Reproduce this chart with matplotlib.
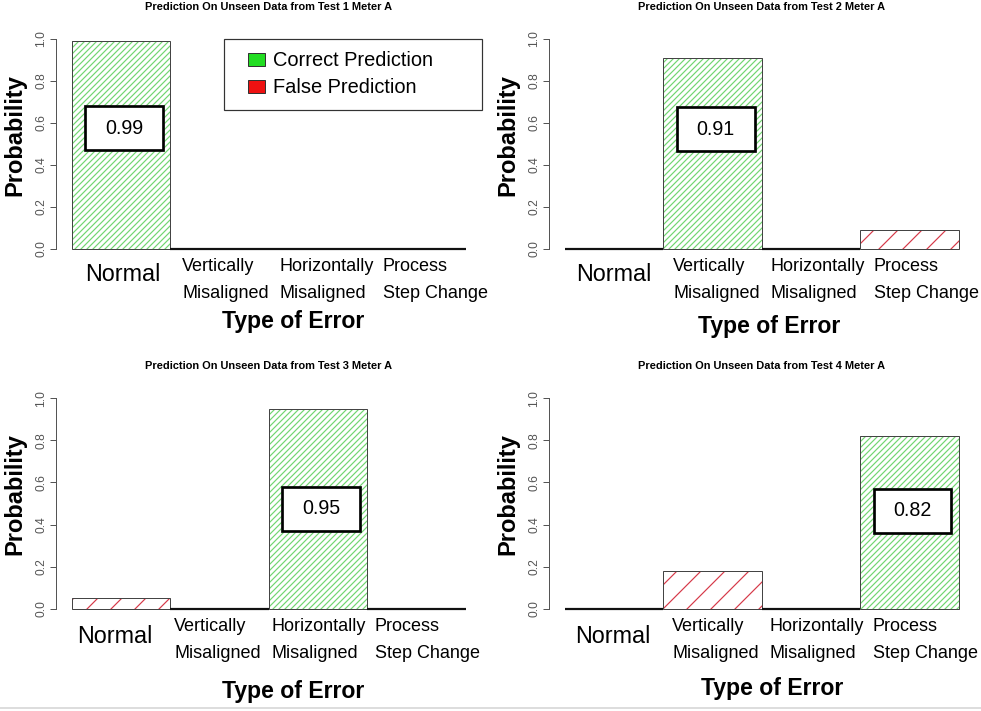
import matplotlib
matplotlib.use('Agg')
import matplotlib.pyplot as plt
from matplotlib import font_manager
from matplotlib.patches import Patch, Rectangle
from matplotlib.legend_handler import HandlerPatch
from matplotlib.lines import Line2D

categories = ['Normal', 'Vertically\nMisaligned', 'Horizontally\nMisaligned', 'Process\nStep Change']
tests = ['Test 1', 'Test 2', 'Test 3', 'Test 4']
test1_probs = [0.99, 0.0, 0.0, 0.0]
test2_probs = [0.0, 0.91, 0.0, 0.09]
test3_probs = [0.05, 0.0, 0.95, 0.0]
test4_probs = [0.0, 0.18, 0.0, 0.82]
correct_idx = [0, 1, 2, 3]
all_probs = [test1_probs, test2_probs, test3_probs, test4_probs]

# where the value box sits (y, data units) in each panel
label_y = [0.575, 0.57, 0.475, 0.465]
# small per-panel quirks of the original layout
label_shift = [0.02, 0.0, -0.06, -0.01]
xlab_pos = [(0.556, -0.345), (0.517, -0.369), (0.556, -0.389), (0.524, -0.379)]
normal_top = [-0.067, -0.067, -0.076, -0.076]

GREEN = '#22dd22'
RED = '#ee1111'
GREEN_HATCH = '#72d672'
RED_HATCH = '#d63a4a'

plt.rcParams['font.family'] = ['Liberation Sans', 'DejaVu Sans']
plt.rcParams['hatch.linewidth'] = 0.6
plt.rcParams['ytick.alignment'] = 'center'

names = {f.name for f in font_manager.fontManager.ttflist}
if 'Liberation Sans Narrow' in names:
    title_family, title_size = ['Liberation Sans Narrow', 'Liberation Sans'], 6.0
else:
    title_family, title_size = ['Liberation Sans', 'DejaVu Sans'], 5.5


def offset_square(legend, orig_handle, xdescent, ydescent, width, height, fontsize):
    return Rectangle((-xdescent + 0.41 * width, -ydescent), 0.59 * width, height)


DPI = 144
fig = plt.figure(figsize=(981 / DPI, 711 / DPI), dpi=DPI)
fig.patch.set_facecolor('white')

positions = [
    [0.0573, 0.6380, 0.4337, 0.3190],
    [0.5598, 0.6380, 0.4337, 0.3190],
    [0.0573, 0.1316, 0.4337, 0.3204],
    [0.5598, 0.1316, 0.4337, 0.3204],
]

x = [i + 0.5 for i in range(len(categories))]

for k, probs in enumerate(all_probs):
    ax = fig.add_axes(positions[k])
    good = correct_idx[k]
    hatch_cols = [GREEN_HATCH if i == good else RED_HATCH for i in range(len(probs))]
    hatches = ['////////' if i == good else '//' for i in range(len(probs))]

    bars = ax.bar(x, probs, width=1.0, facecolor='white', edgecolor=hatch_cols,
                  linewidth=0, zorder=1)
    for b, h in zip(bars, hatches):
        b.set_hatch(h)
    lws = [0.5 if p > 0 else 1.1 for p in probs]
    edge_cols = ['#444444' if p > 0 else '#111111' for p in probs]
    ax.bar(x, probs, width=1.0, fill=False, edgecolor=edge_cols, linewidth=lws, zorder=2)

    # value box
    bw, bh = 0.79, 0.21
    cx = x[good] + 0.03
    ax.add_patch(Rectangle((cx - bw / 2, label_y[k] - bh / 2), bw, bh, facecolor='white',
                           edgecolor='black', linewidth=1.35, zorder=3))
    ax.text(cx, label_y[k], f'{probs[good]:.2f}', ha='center', va='center',
            fontsize=9.8, zorder=4)

    ax.set_xlim(-0.16, 4.16)
    ax.set_ylim(-0.04, 1.04)
    ax.set_yticks([0.0, 0.2, 0.4, 0.6, 0.8, 1.0])
    ax.set_yticklabels(['0.0', '0.2', '0.4', '0.6', '0.8', '1.0'])
    ax.tick_params(axis='y', length=3, width=0.5, color='#555555', labelsize=6,
                   labelcolor='#555555', pad=1.5, labelrotation=90)
    ax.set_xticks([])
    for s in ['top', 'right', 'bottom']:
        ax.spines[s].set_visible(False)
    ax.spines['left'].set_bounds(0, 1)
    ax.spines['left'].set_color('#555555')
    ax.spines['left'].set_linewidth(0.5)

    # category labels
    sh = label_shift[k]
    offsets = [0.0, 0.10, 0.085, 0.135]
    for i, cat in enumerate(categories):
        if i == 0:
            ax.text(x[i] + sh, normal_top[k], cat, ha='center', va='top', fontsize=11.7)
        else:
            ax.text(i + offsets[i] + sh, -0.043, cat, ha='left', va='top',
                    fontsize=9, linespacing=1.8)

    xl, yl = xlab_pos[k]
    ax.text(xl, yl, 'Type of Error', transform=ax.get_yaxis_transform(),
            ha='center', va='center', fontsize=11.5, fontweight='bold')
    ax.text(-0.097, 0.54, 'Probability', transform=ax.transAxes, rotation=90,
            ha='center', va='center', fontsize=11.8, fontweight='bold')
    ax.text(0.5, 1.102, f'Prediction On Unseen Data from {tests[k]} Meter A',
            transform=ax.transAxes, ha='center', va='center', fontsize=title_size,
            fontweight='bold', family=title_family)

    if k == 0:
        handles = [Patch(facecolor=GREEN, edgecolor='#333333', linewidth=0.5),
                   Patch(facecolor=RED, edgecolor='#333333', linewidth=0.5)]
        leg = ax.legend(handles, ['Correct Prediction', 'False Prediction'],
                        loc='upper left', bbox_to_anchor=(0.394, 0.0, 0.606, 0.963),
                        mode='expand', borderaxespad=0, fontsize=10,
                        handlelength=1.45, handleheight=0.6, handletextpad=0.4,
                        labelspacing=0.4, borderpad=0.62, fancybox=False,
                        edgecolor='#333333', framealpha=1,
                        handler_map={Patch: HandlerPatch(patch_func=offset_square)})
        leg.get_frame().set_linewidth(0.6)

fig.add_artist(Line2D([0, 1], [0.004, 0.004], color='#dddddd', linewidth=1))

fig.savefig('out.png', dpi=DPI)
